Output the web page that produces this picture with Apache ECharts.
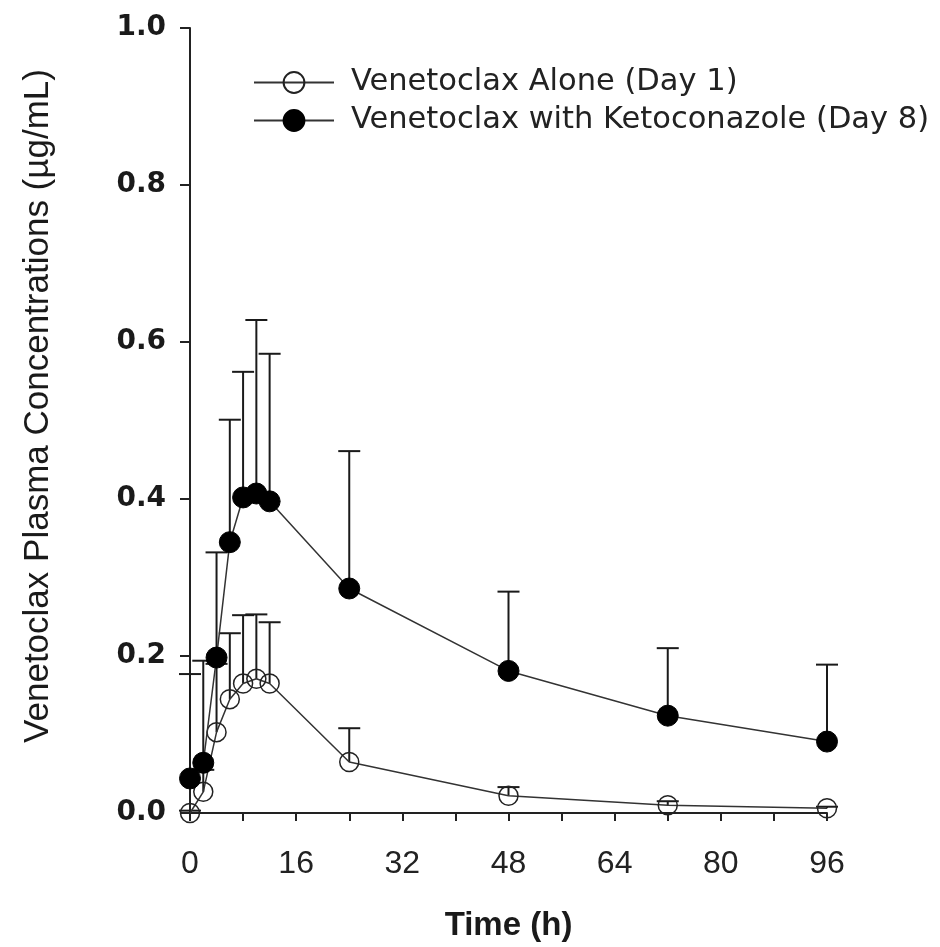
<!DOCTYPE html>
<html>
<head>
<meta charset="utf-8">
<script src="https://cdn.jsdelivr.net/npm/echarts@6/dist/echarts.min.js"></script>
<style>
html,body{margin:0;padding:0;background:#fff;}
#chart{width:940px;height:947px;}
</style>
</head>
<body>
<div id="chart"></div>
<script>
// Time points (h)
const times = [0, 2, 4, 6, 8, 10, 12, 24, 48, 72, 96];
// Venetoclax Alone (Day 1): mean and mean+SD (µg/mL)
const aloneMean  = [0.000, 0.027, 0.103, 0.145, 0.165, 0.171, 0.165, 0.065, 0.022, 0.010, 0.006];
const aloneUpper = [0.003, 0.055, 0.190, 0.229, 0.252, 0.253, 0.243, 0.108, 0.033, 0.015, 0.008];
// Venetoclax with Ketoconazole (Day 8)
const ketoMean  = [0.044, 0.064, 0.198, 0.345, 0.402, 0.407, 0.397, 0.286, 0.181, 0.124, 0.091];
const ketoUpper = [0.177, 0.194, 0.332, 0.501, 0.562, 0.628, 0.585, 0.461, 0.282, 0.210, 0.189];
// Axis ticks
const xTicks = [0, 16, 32, 48, 64, 80, 96];
const yTicks = [0.0, 0.2, 0.4, 0.6, 0.8, 1.0];

const seriesNames = ['Venetoclax Alone (Day 1)', 'Venetoclax with Ketoconazole (Day 8)'];
const yTitle = 'Venetoclax Plasma Concentrations (µg/mL)';
const xTitle = 'Time (h)';

function pairs(xs, ys) { return xs.map((x, i) => [x, ys[i]]); }
function triples(xs, ms, us) { return xs.map((x, i) => [x, ms[i], us[i]]); }

function errRender(params, api) {
  const x = api.value(0), m = api.value(1), u = api.value(2);
  const p0 = api.coord([x, m]);
  const p1 = api.coord([x, u]);
  const hw = 11;
  return {
    type: 'group',
    children: [
      { type: 'line', shape: { x1: p0[0], y1: p0[1], x2: p1[0], y2: p1[1] }, style: { stroke: '#1a1a1a', lineWidth: 2 } },
      { type: 'line', shape: { x1: p1[0] - hw, y1: p1[1], x2: p1[0] + hw, y2: p1[1] }, style: { stroke: '#1a1a1a', lineWidth: 2 } }
    ]
  };
}

const chart = echarts.init(document.getElementById('chart'), null, { renderer: 'canvas' });
chart.setOption({
  backgroundColor: '#ffffff',
  animation: false,
  grid: { left: 190, right: 113, top: 28, bottom: 129, containLabel: false },
  graphic: [
    {
      type: 'text',
      x: 38, y: 406,
      rotation: Math.PI / 2,
      style: {
        text: yTitle,
        fontFamily: 'Liberation Sans, Arial, sans-serif',
        fontSize: 35,
        fill: '#1a1a1a',
        align: 'center',
        verticalAlign: 'middle'
      }
    }
  ],
  legend: {
    data: seriesNames,
    orient: 'vertical',
    left: 248,
    top: 62,
    itemWidth: 80,
    itemHeight: 26,
    itemGap: 7,
    textStyle: { fontFamily: 'DejaVu Sans, sans-serif', fontSize: 30.5, lineHeight: 30, color: '#222', padding: [0, 0, 0, 12] }
  },
  xAxis: {
    type: 'value',
    min: 0, max: 96, interval: 8,
    name: xTitle,
    nameLocation: 'middle',
    nameGap: 96,
    nameTextStyle: { fontFamily: 'Liberation Sans, Arial, sans-serif', fontWeight: 'bold', fontSize: 33, color: '#1a1a1a' },
    axisLine: { show: true, onZero: true, lineStyle: { color: '#222', width: 2 } },
    axisTick: { show: true, inside: false, length: 8, lineStyle: { color: '#222', width: 2 } },
    axisLabel: {
      margin: 35,
      fontFamily: 'Liberation Sans, Arial, sans-serif', fontSize: 32, color: '#222',
      formatter: v => (xTicks.indexOf(v) >= 0 ? String(v) : '')
    },
    splitLine: { show: false }
  },
  yAxis: {
    type: 'value',
    min: 0, max: 1.0, interval: 0.2,
    axisLine: { show: true, lineStyle: { color: '#222', width: 2 } },
    axisTick: { show: true, inside: false, length: 10, lineStyle: { color: '#222', width: 2 } },
    axisLabel: {
      margin: 24,
      fontFamily: 'DejaVu Sans, sans-serif', fontWeight: 'bold', fontSize: 28, color: '#1a1a1a',
      formatter: v => {
        const t = yTicks.find(y => Math.abs(y - v) < 1e-9);
        return t === undefined ? '' : t.toFixed(1);
      }
    },
    splitLine: { show: false }
  },
  series: [
    {
      type: 'custom', name: 'aloneErr', renderItem: errRender,
      data: triples(times, aloneMean, aloneUpper), encode: { x: 0, y: [1, 2] }, z: 1, silent: true
    },
    {
      type: 'custom', name: 'ketoErr', renderItem: errRender,
      data: triples(times, ketoMean, ketoUpper), encode: { x: 0, y: [1, 2] }, z: 1, silent: true
    },
    {
      name: seriesNames[0], type: 'line', data: pairs(times, aloneMean), z: 3,
      symbol: 'circle', symbolSize: 19, showAllSymbol: true,
      lineStyle: { color: '#333', width: 1.5 },
      itemStyle: { color: 'rgba(255,255,255,0)', borderColor: '#222', borderWidth: 1.5 }
    },
    {
      name: seriesNames[1], type: 'line', data: pairs(times, ketoMean), z: 4,
      symbol: 'circle', symbolSize: 21, showAllSymbol: true,
      lineStyle: { color: '#333', width: 1.5 },
      itemStyle: { color: '#000', borderColor: '#000', borderWidth: 1 }
    }
  ]
});
</script>
</body>
</html>
